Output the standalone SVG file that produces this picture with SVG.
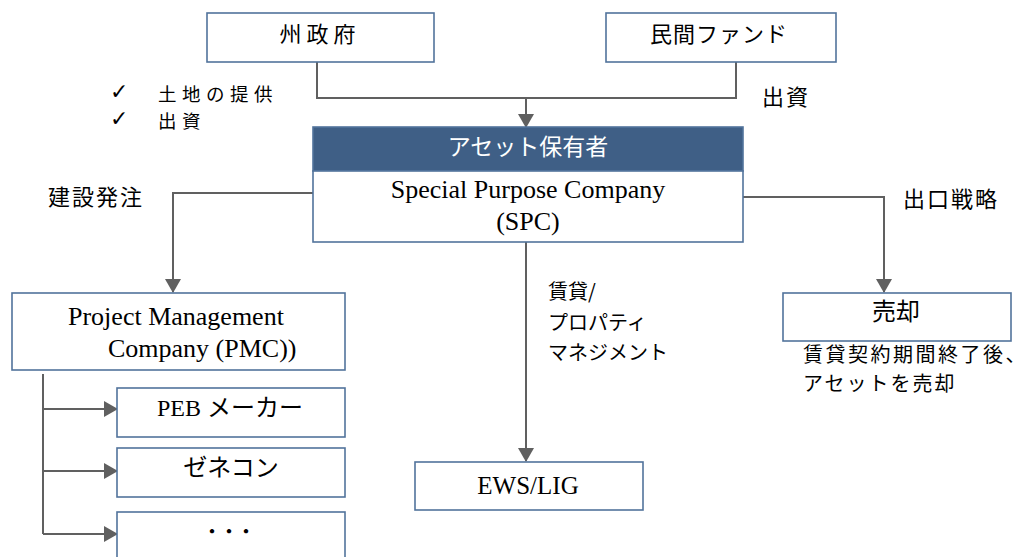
<svg xmlns="http://www.w3.org/2000/svg" width="1029" height="557" viewBox="0 0 1029 557">
  <style>
    .box { fill: #ffffff; stroke: #52739c; stroke-width: 1.6; }
    .hdr { fill: #3f5f86; stroke: #52739c; stroke-width: 1.6; }
    .jp { font-family: "Noto Sans CJK JP", "Noto Sans", sans-serif; fill: #000; }
    .en { font-family: "Liberation Serif", "Noto Sans CJK JP", serif; fill: #000; }
    .chk { font-family: "DejaVu Sans", sans-serif; font-size: 22px; fill: #000; }
    .con { fill: none; stroke: #606060; stroke-width: 2; }
  </style>
  <defs>
    <marker id="arr" markerWidth="16" markerHeight="16" refX="13" refY="8" orient="auto" markerUnits="userSpaceOnUse">
      <path d="M0,0 L14,8 L0,16 z" fill="#606060"/>
    </marker>
  </defs>
  <rect width="1029" height="557" fill="#ffffff"/>

  <g id="connectors">
    <path class="con" d="M317,62 V98 H736 V62"/>
    <path class="con" d="M526,98 V127" marker-end="url(#arr)"/>
    <path class="con" d="M313,193 H173 V292" marker-end="url(#arr)"/>
    <path class="con" d="M743,197 H884 V292" marker-end="url(#arr)"/>
    <path class="con" d="M526,242 V461" marker-end="url(#arr)"/>
    <path class="con" d="M43,374 V534"/>
    <path class="con" d="M43,409 H117" marker-end="url(#arr)"/>
    <path class="con" d="M43,471 H117" marker-end="url(#arr)"/>
    <path class="con" d="M43,534 H117" marker-end="url(#arr)"/>
  </g>

  <g id="state-gov">
    <rect class="box" x="207" y="13" width="227" height="49"/>
    <text class="jp" x="320" y="42" font-size="22" letter-spacing="5" text-anchor="middle">州政府</text>
  </g>
  <g id="private-fund">
    <rect class="box" x="606" y="13" width="230" height="49"/>
    <text class="jp" x="719" y="42" font-size="22" letter-spacing="1" text-anchor="middle">民間ファンド</text>
  </g>

  <g id="gov-notes">
    <text class="chk" x="110" y="99">✓</text>
    <text class="chk" x="110" y="126">✓</text>
    <text class="jp" x="158" y="101" font-size="18.5" letter-spacing="5.5">土地の提供</text>
    <text class="jp" x="158" y="128" font-size="18.5" letter-spacing="5.5">出資</text>
  </g>
  <text class="jp" x="762" y="105" font-size="22" letter-spacing="2">出資</text>

  <g id="spc">
    <rect class="hdr" x="313" y="127" width="430" height="44"/>
    <rect class="box" x="313" y="171" width="430" height="71"/>
    <text class="jp" x="528" y="155" font-size="23" text-anchor="middle" style="fill:#ffffff">アセット保有者</text>
    <text class="en" x="528" y="198" font-size="26" text-anchor="middle">Special Purpose Company</text>
    <text class="en" x="528" y="230" font-size="26" text-anchor="middle">(SPC)</text>
  </g>

  <text class="jp" x="48" y="205" font-size="22" letter-spacing="2">建設発注</text>
  <text class="jp" x="903" y="207" font-size="22" letter-spacing="2">出口戦略</text>

  <g id="pmc">
    <rect class="box" x="12" y="293" width="333" height="77"/>
    <text class="en" x="68" y="325" font-size="26">Project Management</text>
    <text class="en" x="108" y="357" font-size="26">Company (PMC))</text>
  </g>

  <g id="peb">
    <rect class="box" x="117" y="388" width="228" height="49"/>
    <text class="en" x="157" y="416" font-size="24">PEB <tspan class="jp">メーカー</tspan></text>
  </g>
  <g id="genecon">
    <rect class="box" x="117" y="448" width="228" height="49"/>
    <text class="jp" x="231" y="476" font-size="24" text-anchor="middle">ゼネコン</text>
  </g>
  <g id="others">
    <rect class="box" x="117" y="512" width="228" height="60"/>
    <text class="jp" x="229" y="538" font-size="17" font-weight="bold" text-anchor="middle">・・・</text>
  </g>

  <g id="lease-label">
    <text class="jp" x="548" y="299" font-size="20">賃貸/</text>
    <text class="jp" x="548" y="330" font-size="20">プロパティ</text>
    <text class="jp" x="548" y="360" font-size="20">マネジメント</text>
  </g>

  <g id="ews">
    <rect class="box" x="415" y="462" width="228" height="48"/>
    <text class="en" x="528" y="494" font-size="25" text-anchor="middle">EWS/LIG</text>
  </g>

  <g id="sale">
    <rect class="box" x="783" y="293" width="228" height="48"/>
    <text class="jp" x="896" y="320" font-size="24" text-anchor="middle">売却</text>
  </g>
  <g id="sale-note">
    <text class="jp" x="803" y="362" font-size="20" letter-spacing="2.5">賃貸契約期間終了後、</text>
    <text class="jp" x="803" y="391" font-size="20" letter-spacing="2">アセットを売却</text>
  </g>
</svg>
